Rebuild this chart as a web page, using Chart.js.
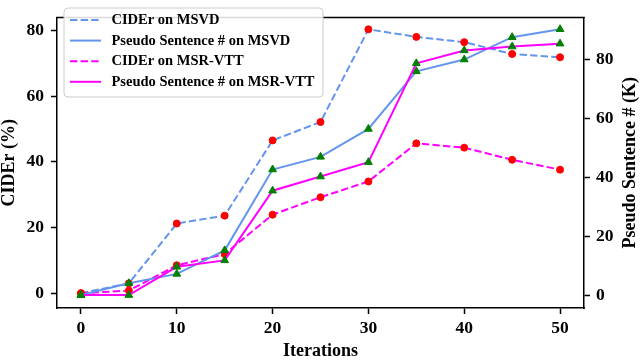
<!DOCTYPE html>
<html><head><meta charset="utf-8">
<script src="https://cdn.jsdelivr.net/npm/chart.js@4/dist/chart.umd.min.js"></script>
<style>html,body{margin:0;padding:0;background:#fff;} #wrap{width:640px;height:360px;}</style>
</head><body><div id="wrap"><canvas id="c" width="640" height="360"></canvas></div>
<script>
const iterations = [0, 5, 10, 15, 20, 25, 30, 35, 40, 45, 50];
const ciderMSVD = [0.0, 3.0, 21.2, 23.6, 46.5, 52.1, 80.3, 78.0, 76.4, 72.8, 71.8];
const pseudoMSVD = [0.0, 4.0, 7.2, 15.2, 42.7, 47.0, 56.5, 76.1, 80.1, 87.7, 90.4];
const ciderMSRVTT = [0.0, 0.8, 8.5, 11.9, 23.9, 29.2, 34.0, 45.6, 44.3, 40.6, 37.6];
const pseudoMSRVTT = [0.0, 0.0, 9.6, 11.8, 35.5, 40.3, 45.2, 78.8, 83.2, 84.5, 85.5];
const xTicks = [0, 10, 20, 30, 40, 50];
const leftTicks = [0, 20, 40, 60, 80];
const rightTicks = [0, 20, 40, 60, 80];
const seriesLabels = ['CIDEr on MSVD', 'Pseudo Sentence # on MSVD', 'CIDEr on MSR-VTT', 'Pseudo Sentence # on MSR-VTT'];
const xTitle = 'Iterations';
const leftTitle = 'CIDEr (%)';
const rightTitle = 'Pseudo Sentence # (K)';

const BLUE = '#6495ED', MAG = '#FF00FF', RED = '#FF0000', GREEN = '#008000';
const FAMILY = "'Liberation Serif', 'Times New Roman', serif";
const DASH = [7.4, 3.2];

function pts(ys) { return iterations.map((x, i) => ({x: x, y: ys[i]})); }

Chart.defaults.font.family = FAMILY;
Chart.defaults.font.weight = 'bold';
Chart.defaults.color = '#000';

const datasets = [
  {label: seriesLabels[0], data: pts(ciderMSVD), yAxisID: 'y', borderColor: BLUE, borderWidth: 2, borderDash: DASH,
   pointStyle: 'circle', pointRadius: 3.5, pointBackgroundColor: RED, pointBorderColor: RED, pointBorderWidth: 1, order: 4},
  {label: seriesLabels[1], data: pts(pseudoMSVD), yAxisID: 'y2', borderColor: BLUE, borderWidth: 2, borderDash: [],
   pointStyle: 'triangle', pointRadius: 4.5, pointBackgroundColor: GREEN, pointBorderColor: GREEN, pointBorderWidth: 1, order: 2},
  {label: seriesLabels[2], data: pts(ciderMSRVTT), yAxisID: 'y', borderColor: MAG, borderWidth: 2, borderDash: DASH,
   pointStyle: 'circle', pointRadius: 3.5, pointBackgroundColor: RED, pointBorderColor: RED, pointBorderWidth: 1, order: 3},
  {label: seriesLabels[3], data: pts(pseudoMSRVTT), yAxisID: 'y2', borderColor: MAG, borderWidth: 2, borderDash: [],
   pointStyle: 'triangle', pointRadius: 4.5, pointBackgroundColor: GREEN, pointBorderColor: GREEN, pointBorderWidth: 1, order: 1}
];
datasets.forEach(d => { d.fill = false; d.tension = 0; d.backgroundColor = d.borderColor; });

const extras = {
  id: 'extras',
  afterDraw(chart) {
    const ctx = chart.ctx, a = chart.chartArea;
    ctx.save();
    // top spine
    ctx.strokeStyle = '#000'; ctx.lineWidth = 1.5;
    ctx.beginPath(); ctx.moveTo(a.left - 0.75, a.top); ctx.lineTo(a.right + 0.75, a.top); ctx.stroke();
    // right axis title
    ctx.translate(630, (a.top + a.bottom) / 2);
    ctx.rotate(-Math.PI / 2);
    ctx.font = 'bold 18px ' + FAMILY;
    ctx.fillStyle = '#000'; ctx.textAlign = 'center'; ctx.textBaseline = 'middle';
    ctx.fillText(rightTitle, 0, 0);
    ctx.restore();
    // legend
    ctx.save();
    const bx = 64, by = 8, bw = 259, bh = 89, r = 4;
    ctx.beginPath();
    ctx.moveTo(bx + r, by); ctx.lineTo(bx + bw - r, by); ctx.arcTo(bx + bw, by, bx + bw, by + r, r);
    ctx.lineTo(bx + bw, by + bh - r); ctx.arcTo(bx + bw, by + bh, bx + bw - r, by + bh, r);
    ctx.lineTo(bx + r, by + bh); ctx.arcTo(bx, by + bh, bx, by + bh - r, r);
    ctx.lineTo(bx, by + r); ctx.arcTo(bx, by, bx + r, by, r); ctx.closePath();
    ctx.fillStyle = 'rgba(255,255,255,0.85)'; ctx.fill();
    ctx.strokeStyle = '#cccccc'; ctx.lineWidth = 1; ctx.stroke();
    chart.data.datasets.forEach((d, i) => {
      const y = 20 + i * 20.6;
      ctx.strokeStyle = d.borderColor; ctx.lineWidth = d.borderWidth;
      ctx.setLineDash(d.borderDash || []);
      ctx.beginPath(); ctx.moveTo(70, y); ctx.lineTo(101, y); ctx.stroke();
      ctx.setLineDash([]);
      ctx.font = 'bold 14.5px ' + FAMILY;
      ctx.fillStyle = '#000'; ctx.textAlign = 'left'; ctx.textBaseline = 'middle';
      ctx.fillText(d.label, 111.5, y + 0.5);
    });
    ctx.restore();
  }
};

const tickFont = {size: 17.5, weight: 'bold', family: FAMILY};
const gridOpt = {display: true, drawOnChartArea: false, drawTicks: true, tickLength: 6, tickColor: '#000', tickWidth: 1.5};
const borderOpt = {display: true, color: '#000', width: 1.5};

new Chart(document.getElementById('c'), {
  type: 'line',
  data: {datasets: datasets},
  options: {
    responsive: false, animation: false, devicePixelRatio: 1,
    layout: {padding: {top: 2.5, left: 0, right: 0, bottom: 0}},
    plugins: {legend: {display: false}, tooltip: {enabled: false}},
    elements: {line: {tension: 0}},
    scales: {
      x: {type: 'linear', min: -2.5, max: 52.5,
          afterBuildTicks: s => { s.ticks = xTicks.map(v => ({value: v})); },
          afterFit: s => { s.height = 52; },
          ticks: {font: tickFont, padding: 4, maxRotation: 0},
          grid: gridOpt, border: borderOpt,
          title: {display: true, text: xTitle, font: {size: 18, weight: 'bold', family: FAMILY, lineHeight: 1}, padding: {top: 0, bottom: 0}}},
      y: {type: 'linear', position: 'left', min: -4.5, max: 83.9,
          afterBuildTicks: s => { s.ticks = leftTicks.map(v => ({value: v})); },
          afterFit: s => { s.width = 57; },
          ticks: {font: tickFont, padding: 7},
          grid: gridOpt, border: borderOpt,
          title: {display: true, text: leftTitle, font: {size: 18, weight: 'bold', family: FAMILY, lineHeight: 1}, padding: {top: 0, bottom: 0}}},
      y2: {type: 'linear', position: 'right', min: -4.4, max: 94.4,
          afterBuildTicks: s => { s.ticks = rightTicks.map(v => ({value: v})); },
          afterFit: s => { s.width = 56; },
          ticks: {font: tickFont, padding: 6},
          grid: gridOpt, border: borderOpt}
    }
  },
  plugins: [extras]
});
</script>
</body></html>
